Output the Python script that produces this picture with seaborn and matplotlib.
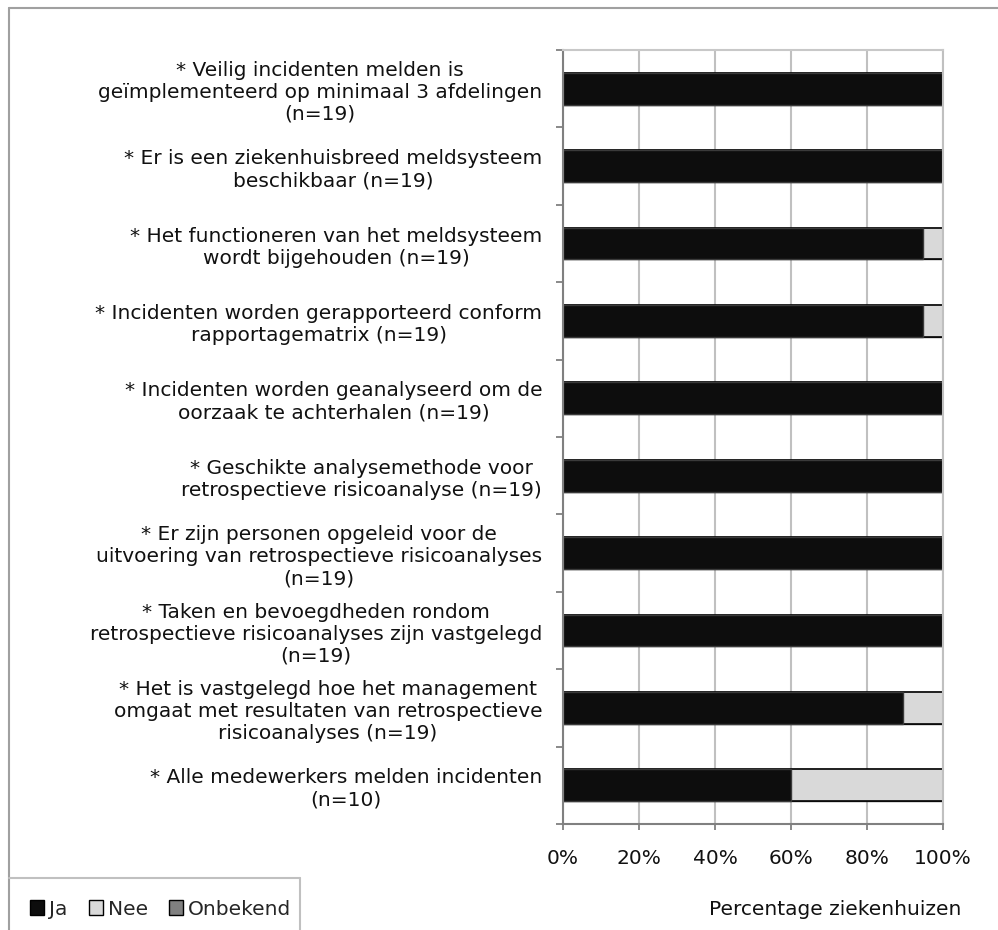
import numpy as np
import pandas as pd
import seaborn as sns
from matplotlib import pyplot as plt
from matplotlib.lines import Line2D
from matplotlib.patches import Patch

labels = [
    "* Veilig incidenten melden is\ngeïmplementeerd op minimaal 3 afdelingen\n(n=19)",
    "* Er is een ziekenhuisbreed meldsysteem\nbeschikbaar (n=19)",
    "* Het functioneren van het meldsysteem\nwordt bijgehouden (n=19)",
    "* Incidenten worden gerapporteerd conform\nrapportagematrix (n=19)",
    "* Incidenten worden geanalyseerd om de\noorzaak te achterhalen (n=19)",
    "* Geschikte analysemethode voor\nretrospectieve risicoanalyse (n=19)",
    "* Er zijn personen opgeleid voor de\nuitvoering van retrospectieve risicoanalyses\n(n=19)",
    "* Taken en bevoegdheden rondom\nretrospectieve risicoanalyses zijn vastgelegd\n(n=19)",
    "* Het is vastgelegd hoe het management\nomgaat met resultaten van retrospectieve\nrisicoanalyses (n=19)",
    "* Alle medewerkers melden incidenten\n(n=10)",
]
ja = [100, 100, 94.7, 94.7, 100, 100, 100, 100, 89.5, 60]
nee = [0, 0, 5.3, 5.3, 0, 0, 0, 0, 10.5, 40]
onbekend = [0, 0, 0, 0, 0, 0, 0, 0, 0, 0]
xticks = [0, 20, 40, 60, 80, 100]

c_ja, c_nee, c_onb = "#0d0d0d", "#d9d9d9", "#808080"
fs = 14.5

df = pd.DataFrame({"label": labels, "ja": ja, "nee": nee, "onbekend": onbekend})
df["cum_nee"] = df["ja"] + df["nee"]
df["cum_onb"] = df["cum_nee"] + df["onbekend"]

sns.set_style("white")
plt.rcParams["font.family"] = ["DejaVu Sans"]

W, H = 998, 930
fig = plt.figure(figsize=(W / 100, H / 100), dpi=100)
ax = fig.add_axes([563 / W, 1 - 824 / H, (943 - 563) / W, (824 - 50) / H])

bw = 0.41
# stacked by layering cumulative sums
sns.barplot(data=df, y="label", x="cum_onb", color=c_onb, orient="h", width=bw,
            edgecolor="#404040", linewidth=1, ax=ax)
sns.barplot(data=df, y="label", x="cum_nee", color=c_nee, orient="h", width=bw,
            edgecolor="#000000", linewidth=1.2, ax=ax)
sns.barplot(data=df, y="label", x="ja", color=c_ja, orient="h", width=bw,
            edgecolor="#3a3a3a", linewidth=1, ax=ax)

ax.set_xlim(0, 100)
ax.set_ylim(len(labels) - 0.5, -0.5)
ax.set_xticks(xticks)
ax.set_xticklabels([f"{t}%" for t in xticks], fontsize=fs)
ax.set_yticks(range(len(labels)))
ax.set_yticklabels(labels, fontsize=fs, multialignment="center", linespacing=1.2)
ax.set_yticks(np.arange(-0.5, len(labels), 1.0), minor=True)
ax.set_xlabel("")
ax.set_ylabel("")

ax.grid(axis="x", color="#c0c0c0", linewidth=1.5)
ax.set_axisbelow(True)
ax.tick_params(axis="y", which="major", length=0, pad=15, colors="#111111")
ax.tick_params(axis="y", which="minor", length=5, width=1.3, color="#808080", left=True)
ax.tick_params(axis="x", length=4, width=1.3, color="#808080", pad=14, bottom=True,
               labelcolor="#111111")
for s in ["left", "bottom"]:
    ax.spines[s].set_color("#808080")
    ax.spines[s].set_linewidth(1.5)
ax.spines["top"].set_color("#c8c8c8")
ax.spines["top"].set_linewidth(1.5)
ax.spines["right"].set_color("#c0c0c0")
ax.spines["right"].set_linewidth(1.5)

fig.text(835 / W, 1 - 909 / H, "Percentage ziekenhuizen", fontsize=fs,
         ha="center", va="center", color="#111111")

handles = [Patch(facecolor=c_ja, edgecolor="#000000", label="Ja"),
           Patch(facecolor=c_nee, edgecolor="#000000", label="Nee"),
           Patch(facecolor=c_onb, edgecolor="#000000", label="Onbekend")]
fig.legend(handles=handles, loc="center left", bbox_to_anchor=(22 / W, 1 - 909 / H),
           ncol=3, frameon=False, fontsize=fs, handlelength=0.7, handleheight=0.7,
           handletextpad=0.25, columnspacing=1.05, borderaxespad=0)

# outer chart border and legend box
fig.add_artist(Line2D([9 / W, 9 / W], [0, 1 - 8 / H], color="#a0a0a0", lw=1.5))
fig.add_artist(Line2D([9 / W, 1], [1 - 8 / H, 1 - 8 / H], color="#a0a0a0", lw=1.5))
fig.add_artist(Line2D([9 / W, 300 / W], [1 - 878 / H, 1 - 878 / H], color="#c0c0c0", lw=1.5))
fig.add_artist(Line2D([300 / W, 300 / W], [0, 1 - 878 / H], color="#c0c0c0", lw=1.5))

fig.savefig("out.png", dpi=100)
